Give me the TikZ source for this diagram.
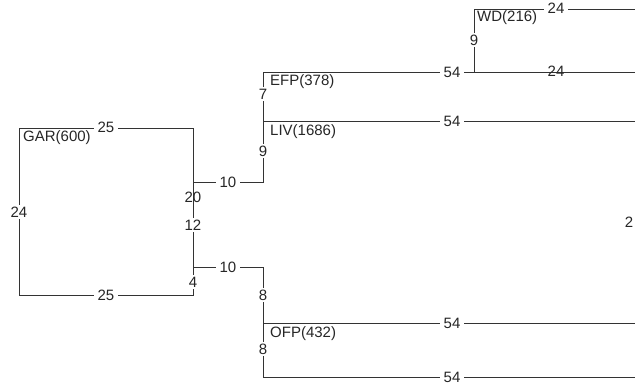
\documentclass[tikz,border=0pt]{standalone}
\usepackage{fontspec}
\setmainfont{Liberation Sans}
\begin{document}
\begin{tikzpicture}[x=1pt,y=-1pt,
  font=\fontsize{15}{17}\selectfont,
  wire/.style={draw=black!80, line width=1pt},
  lab/.style={fill=white, inner xsep=4pt, inner ysep=2pt, text=black!85},
  labnofill/.style={inner sep=1pt, text=black!85},
  tag/.style={anchor=west, inner sep=0pt, text=black!85}]
\useasboundingbox (0,0) rectangle (635,386);
% coordinates
\coordinate (gTL) at (19,128);
\coordinate (gTR) at (193,128);
\coordinate (gBR) at (193,295);
\coordinate (gBL) at (19,295);
\coordinate (bU) at (193,182);
\coordinate (bD) at (193,267);
\coordinate (uC) at (263,182);
\coordinate (uT) at (263,72);
\coordinate (uL) at (263,121);
\coordinate (efpE) at (645,72);
\coordinate (livE) at (645,121);
\coordinate (wB) at (474,72);
\coordinate (wT) at (474,9);
\coordinate (wE) at (645,9);
\coordinate (lC) at (263,267);
\coordinate (lM) at (263,323);
\coordinate (lB) at (263,377);
\coordinate (ofpE) at (645,323);
\coordinate (lBE) at (645,377);
% wires
\draw[wire] (gTL) -- (gTR) -- (gBR) -- (gBL) -- cycle;
\draw[wire] (bU) -- (uC) -- (uT) -- (efpE);
\draw[wire] (uL) -- (livE);
\draw[wire] (wB) -- (wT) -- (wE);
\draw[wire] (bD) -- (lC) -- (lB) -- (lBE);
\draw[wire] (lM) -- (ofpE);
% labels
\node[labnofill] at (193,197) {20};
\node[labnofill] at (556,71) {24};
\node[lab] at (106,127) {25};
\node[lab] at (106,295) {25};
\node[lab] at (19,212) {24};
\node[lab] at (193,225) {12};
\node[lab] at (193,282) {4};
\node[lab] at (228,182) {10};
\node[lab] at (228,267) {10};
\node[lab] at (263,94) {7};
\node[lab] at (263,151) {9};
\node[lab] at (263,295) {8};
\node[lab] at (263,349) {8};
\node[lab] at (474,40) {9};
\node[lab] at (452,72) {54};
\node[lab] at (452,121) {54};
\node[lab] at (452,323) {54};
\node[lab] at (452,377) {54};
\node[lab] at (556,8) {24};
\node[labnofill] at (629,222) {2};
% names
\node[tag] (gar) at (23,138) {GAR(600)};
\node[tag] (efp) at (270,82) {EFP(378)};
\node[tag] (liv) at (270,132) {LIV(1686)};
\node[tag] (wd) at (477,18) {WD(216)};
\node[tag] (ofp) at (270,334) {OFP(432)};
\end{tikzpicture}
\end{document}
